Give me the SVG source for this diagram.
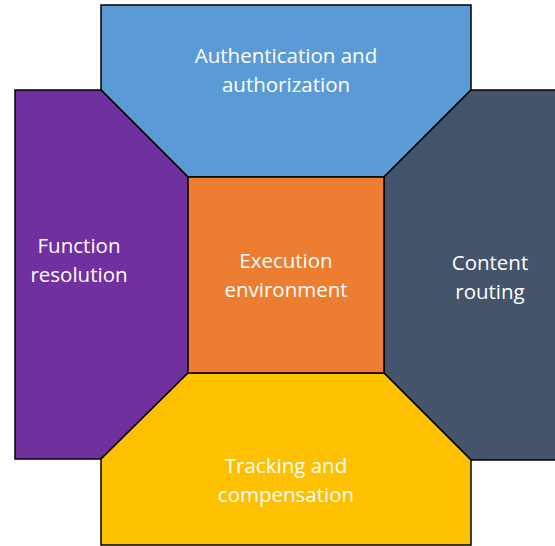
<svg xmlns="http://www.w3.org/2000/svg" width="555" height="546" viewBox="0 0 555 546">
<style>
.s{stroke:#000;stroke-width:1.5;stroke-linejoin:miter}
.t{font-family:"Open Sans","Liberation Sans",sans-serif;font-size:20.5px;font-weight:500;fill:#fff;text-anchor:middle}
</style>
<rect width="555" height="546" fill="#fff"/>
<g id="top"><polygon class="s" fill="#5B9BD5" points="101,5 471,5 471,90 384,177 188,177 101,90"/>
<text class="t" x="286" y="63">Authentication and</text><text class="t" x="286" y="92">authorization</text></g>
<g id="left"><polygon class="s" fill="#7030A0" points="15,90 101,90 188,177 188,373 101,459 15,459"/>
<text class="t" x="79" y="253">Function</text><text class="t" x="79" y="282">resolution</text></g>
<g id="right"><polygon class="s" fill="#44546A" points="471,90 557,90 557,460 471,460 384,373 384,177"/>
<text class="t" x="490" y="270">Content</text><text class="t" x="490" y="299">routing</text></g>
<g id="bottom"><polygon class="s" fill="#FFC000" points="188,373 384,373 471,460 471,545 101,545 101,459"/>
<text class="t" x="286" y="473">Tracking and</text><text class="t" x="286" y="502">compensation</text></g>
<g id="center"><rect class="s" fill="#ED7D31" x="188" y="177" width="196" height="196"/>
<text class="t" x="286" y="268">Execution</text><text class="t" x="286" y="297">environment</text></g>
<g id="connectors"/>
</svg>
